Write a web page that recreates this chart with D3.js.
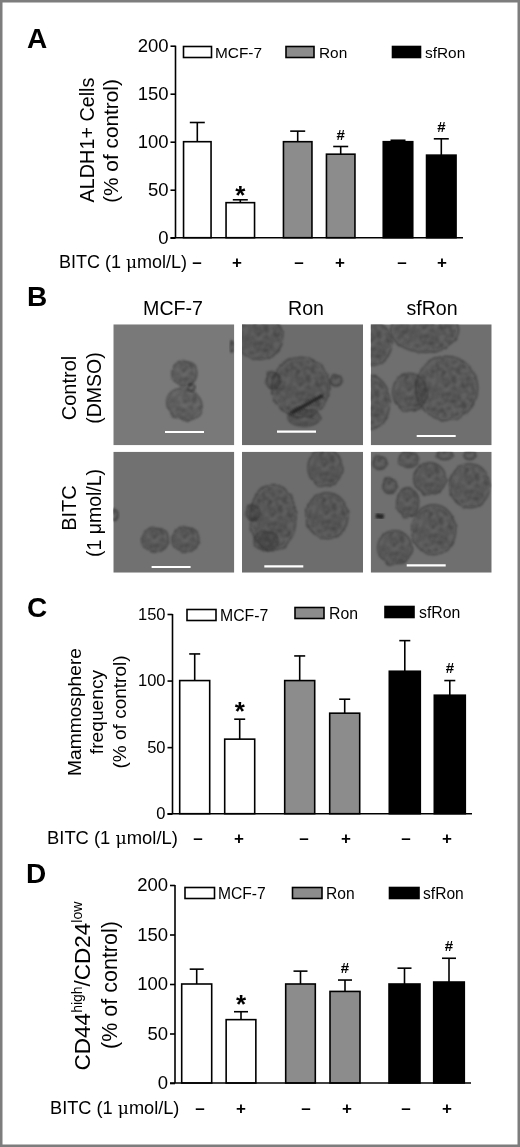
<!DOCTYPE html>
<html>
<head>
<meta charset="utf-8">
<script src="https://cdnjs.cloudflare.com/ajax/libs/d3/7.8.5/d3.min.js"></script>
<style>
  html, body { margin: 0; padding: 0; background: #fff; }
  svg { display: block; filter: blur(0.35px); font-family: "Liberation Sans", Arial, sans-serif; }
</style>
</head>
<body>
<div id="chart"></div>
<script>
// data
const cellLines = ["MCF-7", "Ron", "sfRon"];
const conditions = ["MCF-7 -", "MCF-7 +", "Ron -", "Ron +", "sfRon -", "sfRon +"];
const signLabels = ["–", "+", "–", "+", "–", "+"];
const barLine = ["MCF-7", "MCF-7", "Ron", "Ron", "sfRon", "sfRon"];

const aldhValues = [100, 36.5, 100, 87, 100, 86];
const aldhErrorTops = [120, 39.5, 111, 95, 101.5, 103];
const aldhMarks = ["", "*", "", "#", "", "#"];
const aldhTicks = [0, 50, 100, 150, 200];

const mammoValues = [100, 56, 100, 75.5, 107, 89];
const mammoErrorTops = [120, 71, 118.5, 86, 130, 100];
const mammoMarks = ["", "*", "", "", "", "#"];
const mammoTicks = [0, 50, 100, 150];

const cd44Values = [100, 64, 100, 92.5, 100, 102];
const cd44ErrorTops = [115, 72, 113, 104, 116, 126];
const cd44Marks = ["", "*", "", "#", "", "#"];
const cd44Ticks = [0, 50, 100, 150, 200];

// micrographs: spheres as [cx, cy, rx, ry, angle] in image units (0-121)
const photoSpheres = [
  [[71, 49, 12.5, 13, 0], [71, 80, 18, 15.5, 25], [78, 63, 4, 4, 0], [118.5, 22, 2, 6, 0]],
  [[17, 13, 24, 22, 0], [31, 56, 7, 9, 0], [94, 56, 6, 6, 0], [62, 93, 16, 9, 0], [59, 63, 29, 30, 0]],
  [[54, 6, 34, 22, 0], [1, 19, 20, 22, 0], [-1, 78, 20, 27, 0], [39, 68, 17, 19, 0], [76, 64, 31, 32, 0]],
  [[41.7, 88, 13.5, 12.5, 0], [72, 87.7, 13.5, 13, 0], [1, 63, 4, 6, 0]],
  [[83, 16, 17, 19, 0], [85, 64, 21, 23, 0], [11, 61, 7, 8, 0], [24, 89, 12, 10, 0], [31, 66, 23, 33, 0]],
  [[59, 27, 16, 16, 0], [99, 34, 20, 22, 0], [37, 51, 11, 15, 0], [63, 78, 22, 25, 0], [24, 96, 17, 17, 0],
   [19, 34, 7, 8, 0], [9, 11, 7, 7, 0], [38, 8, 10, 8, 0], [74, 3, 8, 5, 0], [99, 3, 6, 5, 0]]
];
// dark streaks in the photos: [photo, x1, y1, x2, y2, thickness]
const photoDarkStreaks = [[1, 49, 89, 81, 71, 3.5], [5, 5, 64, 13, 65, 5]];
const photoGreys = ["#797979", "#6c6c6c", "#6f6f6f", "#717171", "#6d6d6d", "#6f6f6f"];
const scaleBarStarts = [51.7, 35, 46, 38.3, 22.3, 36];
const scaleBarRows = [107.7, 107.3, 111.7, 115.3, 114.7, 113.7];
const scaleBarLength = 39;

const width = 520, height = 1147;
const fillOf = d3.scaleOrdinal(cellLines, ["#ffffff", "#8c8c8c", "#000000"]);

const svg = d3.select("#chart").append("svg")
  .attr("width", width)
  .attr("height", height);

svg.append("rect").attr("width", width).attr("height", height).attr("fill", "#fff");

const defs = svg.append("defs");

// wobbly soft edge for the spheres
const rough = defs.append("filter").attr("id", "rough")
  .attr("x", "-20%").attr("y", "-20%").attr("width", "140%").attr("height", "140%")
  .attr("color-interpolation-filters", "sRGB");
rough.append("feTurbulence").attr("type", "fractalNoise").attr("baseFrequency", 0.13)
  .attr("numOctaves", 2).attr("seed", 4).attr("result", "n");
rough.append("feDisplacementMap").attr("in", "SourceGraphic").attr("in2", "n")
  .attr("scale", 3.5).attr("xChannelSelector", "R").attr("yChannelSelector", "G");
rough.append("feGaussianBlur").attr("stdDeviation", 0.8);

// blotchy inside of the spheres
const mottle = defs.append("filter").attr("id", "mottle")
  .attr("x", "0%").attr("y", "0%").attr("width", "100%").attr("height", "100%")
  .attr("color-interpolation-filters", "sRGB");
mottle.append("feTurbulence").attr("type", "fractalNoise").attr("baseFrequency", 0.2)
  .attr("numOctaves", 2).attr("seed", 9);
mottle.append("feColorMatrix").attr("type", "matrix")
  .attr("values", "0 0 0 0 0.15  0 0 0 0 0.15  0 0 0 0 0.15  1.1 0 0 0 -0.38");
mottle.append("feComposite").attr("in2", "SourceAlpha").attr("operator", "in");
mottle.append("feGaussianBlur").attr("stdDeviation", 1.2);

const soften = defs.append("filter").attr("id", "soften")
  .attr("x", "-30%").attr("y", "-200%").attr("width", "160%").attr("height", "500%");
soften.append("feGaussianBlur").attr("stdDeviation", 1.1);

// outer frame
svg.append("rect")
  .attr("x", 1.2).attr("y", 1.2)
  .attr("width", width - 2.4).attr("height", height - 2.4)
  .attr("fill", "none").attr("stroke", "#7d7d7d").attr("stroke-width", 2.6);

function panelLetter(letter, x, y) {
  svg.append("text").attr("x", x).attr("y", y)
    .attr("font-size", 28).attr("font-weight", "bold").attr("fill", "#000")
    .text(letter);
}

function drawBarPanel(p) {
  const g = svg.append("g");
  const y = d3.scaleLinear().domain(p.domain).range(p.yRange);
  const center = d3.scaleOrdinal(conditions, p.centers);

  // bars
  g.selectAll("rect.bar").data(conditions).enter().append("rect")
    .attr("class", "bar")
    .attr("x", (d, i) => center(d) - p.barWidth[i] / 2)
    .attr("width", (d, i) => p.barWidth[i])
    .attr("y", (d, i) => y(p.values[i]))
    .attr("height", (d, i) => y(0) - y(p.values[i]))
    .attr("fill", (d, i) => fillOf(barLine[i]))
    .attr("stroke", "#000")
    .attr("stroke-width", 1.6);

  // error bars, upper side only
  const errors = g.selectAll("g.err").data(conditions).enter().append("g").attr("class", "err");
  errors.append("line")
    .attr("x1", d => center(d)).attr("x2", d => center(d))
    .attr("y1", (d, i) => y(p.values[i]))
    .attr("y2", (d, i) => y(p.errorTops[i]))
    .attr("stroke", "#000").attr("stroke-width", 1.6);
  errors.append("line")
    .attr("x1", d => center(d) - p.capHalf).attr("x2", d => center(d) + p.capHalf)
    .attr("y1", (d, i) => y(p.errorTops[i]))
    .attr("y2", (d, i) => y(p.errorTops[i]))
    .attr("stroke", "#000").attr("stroke-width", 1.6);

  // * and # above the error bars
  g.selectAll("text.mark").data(conditions).enter().append("text")
    .attr("class", "mark")
    .attr("x", d => center(d))
    .attr("y", (d, i) => y(p.errorTops[i]) + (p.marks[i] === "*" ? p.starOffset : p.hashOffset))
    .attr("text-anchor", "middle")
    .attr("font-size", (d, i) => p.marks[i] === "*" ? 26 : 15)
    .attr("font-weight", "bold")
    .attr("fill", "#000")
    .text((d, i) => p.marks[i]);

  // y axis
  const axis = g.append("g")
    .attr("transform", `translate(${p.axisX},0)`)
    .call(d3.axisLeft(y).tickValues(p.ticks).tickSize(5).tickPadding(2).tickFormat(d3.format("d")));
  axis.selectAll("path").attr("d", `M0,${y(p.domain[1])}V${y(0)}`)
    .attr("stroke", "#000").attr("stroke-width", 1.6);
  axis.selectAll("line").attr("stroke", "#000").attr("stroke-width", 1.6);
  axis.selectAll("text").attr("font-size", p.tickFont).attr("font-family", "inherit").attr("fill", "#000");

  // baseline
  g.append("line")
    .attr("x1", p.axisX - 5).attr("x2", p.baseEnd)
    .attr("y1", y(0)).attr("y2", y(0))
    .attr("stroke", "#000").attr("stroke-width", 1.6);

  // y titles
  p.titles.forEach(t => {
    const txt = g.append("text")
      .attr("transform", `translate(${t.x},${t.y}) rotate(-90)`)
      .attr("text-anchor", "middle")
      .attr("font-size", t.size)
      .attr("fill", "#000");
    if (t.parts) {
      t.parts.forEach(part => {
        txt.append("tspan")
          .attr("font-size", part[1] ? t.supSize : t.size)
          .attr("dy", part[1] ? -8 : (part[2] ? 8 : 0))
          .text(part[0]);
      });
    } else {
      txt.text(t.label);
    }
  });

  // legend
  cellLines.forEach((name, i) => {
    g.append("rect")
      .attr("x", p.legendX[i]).attr("y", p.legendY[i] - 5.5)
      .attr("width", p.legendW).attr("height", 11)
      .attr("fill", fillOf(name)).attr("stroke", "#000").attr("stroke-width", 1.6);
    g.append("text")
      .attr("x", p.legendTextX[i]).attr("y", p.legendY[i] + 5.5)
      .attr("font-size", p.legendFont).attr("fill", "#000")
      .text(name);
  });

  // BITC row
  const bitc = g.append("text")
    .attr("x", p.bitcX).attr("y", p.signY + 6)
    .attr("font-size", p.bitcFont).attr("fill", "#000");
  bitc.append("tspan").text("BITC (1 ");
  bitc.append("tspan").attr("font-family", "'DejaVu Serif', serif").attr("font-size", p.bitcFont - 1).text("μ");
  bitc.append("tspan").text("mol/L)");

  g.selectAll("text.sign").data(signLabels).enter().append("text")
    .attr("class", "sign")
    .attr("x", (d, i) => p.signX[i]).attr("y", p.signY + 6)
    .attr("text-anchor", "middle")
    .attr("font-size", 17).attr("font-weight", "bold").attr("fill", "#000")
    .text(d => d);
}

// panel A
panelLetter("A", 27, 48);
drawBarPanel({
  domain: [0, 200], yRange: [237.7, 45.7], ticks: aldhTicks,
  values: aldhValues, errorTops: aldhErrorTops, marks: aldhMarks,
  centers: [197.3, 240.3, 297.7, 340.7, 398, 441.3],
  barWidth: [27.5, 28.5, 28.5, 28.5, 29.5, 29.5],
  capHalf: 7.5, starOffset: 4, hashOffset: -7,
  axisX: 175.5, baseEnd: 463, tickFont: 18.5,
  titles: [
    { label: "ALDH1+ Cells", x: 94, y: 140, size: 19.8 },
    { label: "(% of control)", x: 118, y: 141, size: 20.8 }
  ],
  legendX: [183.5, 286, 392.5], legendY: [52, 52, 52], legendW: 28,
  legendTextX: [215, 319, 425], legendFont: 15.4,
  bitcX: 59, bitcFont: 18, signY: 262, signX: [197, 237, 299, 340, 402, 442]
});

// panel B: micrographs
panelLetter("B", 27, 306);
const colLefts = [113.3, 242, 370.7];
const rowTops = [324.3, 451.7];
const photoSize = 121;
const columnCenters = [173, 306, 432];

cellLines.forEach((name, i) => {
  svg.append("text")
    .attr("x", columnCenters[i]).attr("y", 315)
    .attr("text-anchor", "middle").attr("font-size", 19.6).attr("fill", "#000")
    .text(name);
});

[["Control", 388], ["BITC", 508]].forEach(d => {
  svg.append("text").attr("transform", `translate(76,${d[1]}) rotate(-90)`)
    .attr("text-anchor", "middle").attr("font-size", 20).attr("fill", "#000").text(d[0]);
});
[["(DMSO)", 388], ["(1 μmol/L)", 513]].forEach(d => {
  svg.append("text").attr("transform", `translate(101,${d[1]}) rotate(-90)`)
    .attr("text-anchor", "middle").attr("font-size", 19.5).attr("fill", "#000").text(d[0]);
});

photoSpheres.forEach((spheres, k) => {
  const left = colLefts[k % 3], top = rowTops[Math.floor(k / 3)];
  const px = d3.scaleLinear().domain([0, photoSize]).range([left, left + photoSize]);
  const py = d3.scaleLinear().domain([0, photoSize]).range([top, top + photoSize]);
  const clipId = "photo" + k;

  defs.append("clipPath").attr("id", clipId).append("rect")
    .attr("x", left).attr("y", top).attr("width", photoSize).attr("height", photoSize);

  const g = svg.append("g").attr("clip-path", `url(#${clipId})`);
  g.append("rect").attr("x", left).attr("y", top)
    .attr("width", photoSize).attr("height", photoSize).attr("fill", photoGreys[k]);

  const blobs = g.selectAll("g.blob").data(spheres).enter().append("g")
    .attr("class", "blob")
    .attr("transform", d => `translate(${px(d[0])},${py(d[1])}) rotate(${d[4]})`);
  blobs.append("ellipse")
    .attr("rx", d => d[2]).attr("ry", d => d[3])
    .attr("fill", "#3c3c3c").attr("fill-opacity", 0.26)
    .attr("stroke", "#262626").attr("stroke-opacity", 0.65).attr("stroke-width", 1.2)
    .attr("filter", "url(#rough)");
  blobs.append("ellipse")
    .attr("rx", d => d[2] * 0.92).attr("ry", d => d[3] * 0.92)
    .attr("fill", "#000").attr("filter", "url(#mottle)");

  g.selectAll("line.streak").data(photoDarkStreaks.filter(s => s[0] === k)).enter().append("line")
    .attr("class", "streak")
    .attr("x1", d => px(d[1])).attr("y1", d => py(d[2]))
    .attr("x2", d => px(d[3])).attr("y2", d => py(d[4]))
    .attr("stroke", "#262626").attr("stroke-width", d => d[5])
    .attr("filter", "url(#soften)");

  // white scale bar
  g.append("line")
    .attr("x1", px(scaleBarStarts[k])).attr("x2", px(scaleBarStarts[k] + scaleBarLength))
    .attr("y1", py(scaleBarRows[k])).attr("y2", py(scaleBarRows[k]))
    .attr("stroke", "#fff").attr("stroke-width", 2.2);
});

// panel C
panelLetter("C", 27, 617);
drawBarPanel({
  domain: [0, 150], yRange: [813.7, 614], ticks: mammoTicks,
  values: mammoValues, errorTops: mammoErrorTops, marks: mammoMarks,
  centers: [194.7, 239.7, 299.7, 344.7, 404.8, 449.8],
  barWidth: [30, 30, 30, 30, 31, 31],
  capHalf: 5.5, starOffset: 1, hashOffset: -8,
  axisX: 172.5, baseEnd: 472, tickFont: 16.5,
  titles: [
    { label: "Mammosphere", x: 81, y: 712, size: 19.2 },
    { label: "frequency", x: 103, y: 712, size: 19.2 },
    { label: "(% of control)", x: 126, y: 712, size: 19 }
  ],
  legendX: [187, 295, 385], legendY: [615, 613, 612], legendW: 29,
  legendTextX: [220, 329, 419], legendFont: 15.8,
  bitcX: 47, bitcFont: 18.4, signY: 838, signX: [198, 239, 304, 346, 406, 447]
});

// panel D
panelLetter("D", 26, 883);
drawBarPanel({
  domain: [0, 200], yRange: [1083, 885], ticks: cd44Ticks,
  values: cd44Values, errorTops: cd44ErrorTops, marks: cd44Marks,
  centers: [196.7, 241, 300.5, 345, 404.5, 449],
  barWidth: [30, 29.7, 29.6, 30, 31, 30.6],
  capHalf: 7, starOffset: 1, hashOffset: -7,
  axisX: 175, baseEnd: 471, tickFont: 18.5,
  titles: [
    { x: 90, y: 986, size: 22.5, supSize: 14,
      parts: [["CD44"], ["high", true], ["/CD24", false, true], ["low", true]] },
    { label: "(% of control)", x: 117, y: 985, size: 21.5 }
  ],
  legendX: [185, 292.5, 389.5], legendY: [893, 893, 893], legendW: 29.5,
  legendTextX: [218, 326, 423], legendFont: 15.6,
  bitcX: 50, bitcFont: 18.2, signY: 1108, signX: [200, 241, 306, 347, 406, 447]
});
</script>
</body>
</html>
